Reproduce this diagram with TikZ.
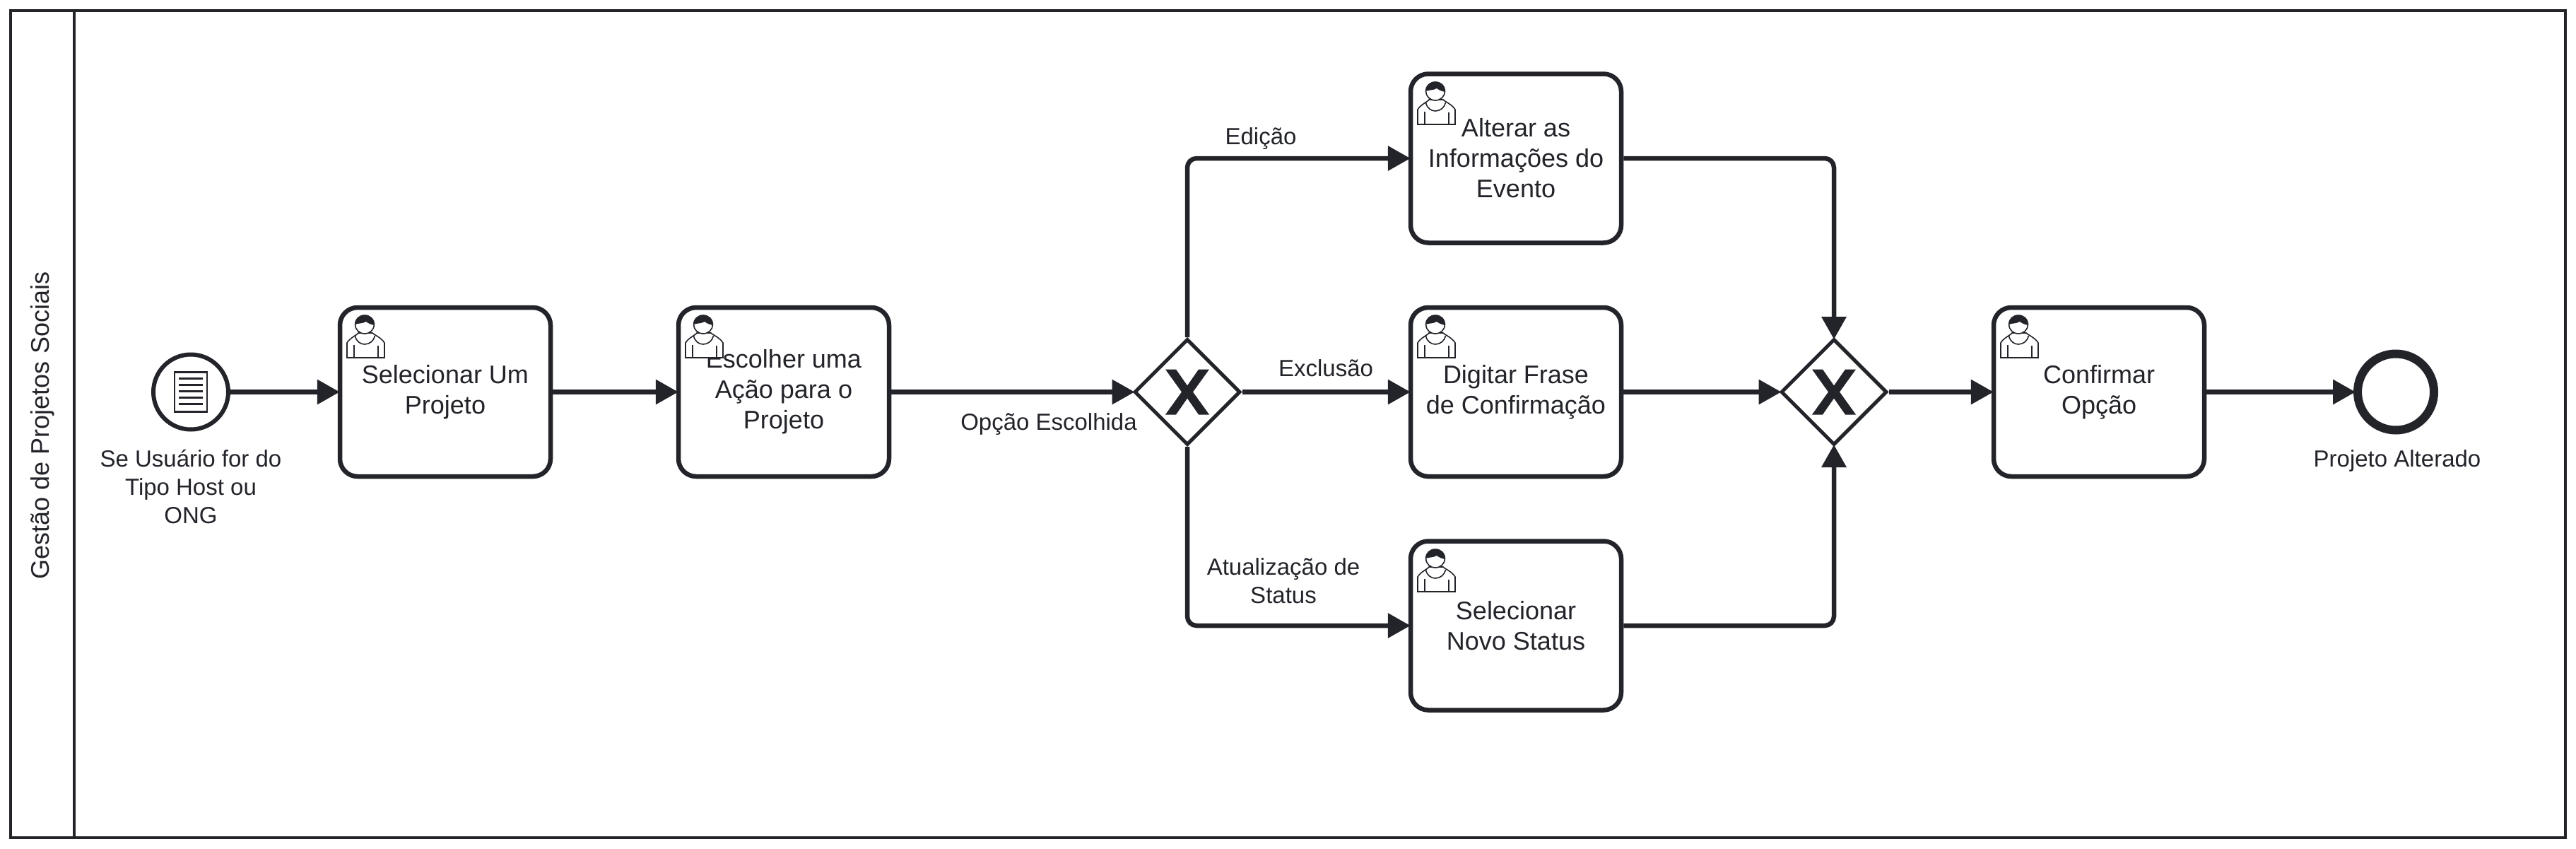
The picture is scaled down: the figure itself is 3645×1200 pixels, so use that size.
\documentclass[tikz,border=0pt]{standalone}
\usepackage{fontspec}
\setmainfont{Liberation Sans}
\usetikzlibrary{arrows.meta,shapes.geometric}
\definecolor{ink}{HTML}{22242A}
\tikzset{
  pics/personicon/.style={code={
    \begin{scope}[line width=1.6pt,draw=ink]
      \draw[fill=white] (26,36) .. controls (24,39) and (14,43) .. (10,50) -- (10,71) -- (63,71) -- (63,50) .. controls (59,43) and (49,39) .. (46,36) -- cycle;
      \draw (21.5,40) .. controls (23,48) and (29,52) .. (35,52) .. controls (42,52) and (48,47) .. (49.5,40);
      \draw (20,53) -- (20,71) (54,54) -- (54,71);
      \draw[fill=white] (35,24) ellipse (13.5 and 13);
      \fill[ink] (21.6,24) .. controls (21,15) and (27,11) .. (35,11) .. controls (43,11) and (49,15) .. (48.6,25) .. controls (44,24) and (41,23) .. (37,20) .. controls (32,23) and (26,22) .. (21.6,24) -- cycle;
    \end{scope}
  }},
  pics/xmark/.style={code={
    \fill[ink] (-31,-32) -- (-16,-32) -- (0,-9) -- (16,-32) -- (31,-32) -- (8,0) -- (31,32) -- (16,32) -- (0,9) -- (-16,32) -- (-31,32) -- (-8,0) -- cycle;
  }},
  pics/docicon/.style={code={
    \draw[ink,line width=2.6pt,fill=white] (-23,-28) rectangle (23,28);
    \foreach \yy in {-19,-10,-1,8,17}{\draw[ink,line width=3pt] (-17,\yy) -- (17,\yy);}
  }},
  tasknode/.style={draw=ink,fill=white,line width=6.5pt,rectangle,rounded corners=25pt,
    minimum width=298pt,minimum height=239pt,inner sep=0pt,align=center,text=ink,
    font=\fontsize{36}{43}\selectfont,execute at begin node={\rule{0pt}{36pt}}},
  gatenode/.style={draw=ink,fill=white,line width=5pt,diamond,aspect=1,
    minimum width=150pt,minimum height=150pt,inner sep=0pt},
  startnode/.style={draw=ink,fill=white,line width=6pt,circle,minimum size=106pt,inner sep=0pt},
  endnode/.style={draw=ink,fill=white,line width=12pt,circle,minimum size=108pt,inner sep=0pt},
  labeltext/.style={text=ink,align=center,inner sep=0pt,font=\fontsize{33}{40}\selectfont},
  flow/.style={draw=ink,line width=6.5pt,rounded corners=13pt,shorten >=-3pt,-{Triangle[length=32pt,width=34pt]}},
  lanebox/.style={draw=ink,line width=4.5pt}
}
\begin{document}
\begin{tikzpicture}[x=1pt,y=-1pt]
\useasboundingbox (0,0) rectangle (3645,1200);
\fill[white] (0,0) rectangle (3645,1200);
\coordinate (poolA) at (15,15);
\coordinate (poolB) at (3630,1185);
\draw[lanebox] (poolA) rectangle (poolB);
\draw[lanebox] (105,15) -- (105,1185);
\node[rotate=90,text=ink,inner sep=0pt,font=\fontsize{36}{43}\selectfont] (lane) at (60,602) {Gestão de Projetos Sociais};

\node[startnode] (start) at (270,554.5) {};
\pic at (start) {docicon};
\node[labeltext] (startlabel) at (270,688.5) {Se Usuário for do\\Tipo Host ou\\ONG};

\node[tasknode] (t1) at (630,554.5) {Selecionar Um\\Projeto};
\node[tasknode] (t2) at (1109,554.5) {Escolher uma\\Ação para o\\Projeto};
\node[gatenode] (g1) at (1680,554.5) {};
\pic at (g1) {xmark};
\node[tasknode] (t3) at (2145,224) {Alterar as\\Informações do\\Evento};
\node[tasknode] (t4) at (2145,554.5) {Digitar Frase\\de Confirmação};
\node[tasknode] (t5) at (2145,885) {Selecionar\\Novo Status};
\node[gatenode] (g2) at (2595,554.5) {};
\pic at (g2) {xmark};
\node[tasknode] (t6) at (2970,554.5) {Confirmar\\Opção};
\node[endnode] (stop) at (3390,554.5) {};
\node[labeltext] (stoplabel) at (3392,652) {Projeto Alterado};

\pic at (481,435) {personicon};
\pic at (960,435) {personicon};
\pic at (1996,105) {personicon};
\pic at (1996,435) {personicon};
\pic at (1996,766) {personicon};
\pic at (2821,435) {personicon};

\draw[flow] (start) -- (t1);
\draw[flow] (t1) -- (t2);
\draw[flow] (t2) -- (g1);
\draw[flow] (g1.north) |- (t3.west);
\draw[flow] (g1) -- (t4);
\draw[flow] (g1.south) |- (t5.west);
\draw[flow] (t3.east) -| (g2.north);
\draw[flow] (t4) -- (g2);
\draw[flow] (t5.east) -| (g2.south);
\draw[flow] (g2) -- (t6);
\draw[flow] (t6) -- (stop);

\node[labeltext] (l1) at (1484,600) {Opção Escolhida};
\node[labeltext] (l2) at (1784,196) {Edição};
\node[labeltext] (l3) at (1876,521) {Exclusão};
\node[labeltext] (l4) at (1816,822) {Atualização de\\Status};
\end{tikzpicture}
\end{document}
